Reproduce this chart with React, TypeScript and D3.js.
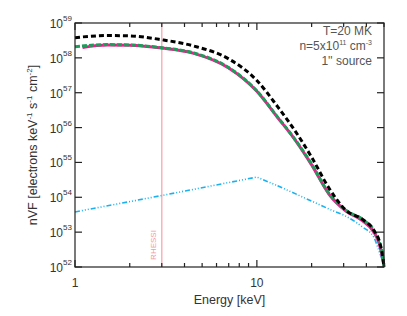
import React from "react";
import * as d3 from "d3";

// energies (keV) and log10 of nVF for each curve
const energy = [1, 1.5, 2, 3, 4.5, 7, 10, 13, 16, 20, 25, 31, 38, 44, 47, 49.5, 50];
const blackLog = [58.58, 58.64, 58.63, 58.52, 58.34, 57.97, 57.35, 56.6, 55.95, 55.15, 54.25, 53.62, 53.37, 53.05, 52.75, 52.2, 52.0];
const greenLog = [58.32, 58.38, 58.37, 58.29, 58.14, 57.72, 57.05, 56.3, 55.7, 54.95, 54.1, 53.62, 53.37, 53.05, 52.75, 52.2, 52.0];
const magentaEnergy = [1.1, 1.5, 2, 3, 4.5, 7, 10, 13, 16, 20, 25, 31, 38, 44, 47, 49.5, 50];
const magentaLog = [58.3, 58.37, 58.36, 58.28, 58.13, 57.71, 57.04, 56.29, 55.69, 54.93, 54.08, 53.6, 53.33, 53.0, 52.68, 52.15, 52.0];
const blueEnergy = [1, 3, 10, 13, 20, 25, 31, 38, 44, 47, 49.5, 50];
const blueLog = [53.58, 54.05, 54.58, 54.33, 53.89, 53.66, 53.45, 53.15, 52.85, 52.45, 52.1, 52.0];

const yDecades = [52, 53, 54, 55, 56, 57, 58, 59];
const xMajor = [1, 10];
const xMinor = [2, 3, 4, 5, 6, 7, 8, 9, 20, 30, 40, 50];
const infoLines = ["T=20 MK", "n=5x10", "1'' source"];

const W = 407;
const H = 316;
const left = 75, right = 384, top = 23, bottom = 267;

export default function App() {
  const x = d3.scaleLog().domain([1, 50]).range([left, right]);
  const y = d3.scaleLog().domain([1e52, 1e59]).range([bottom, top]);

  const mk = (xs: number[], ls: number[], curve: d3.CurveFactory = d3.curveMonotoneX) =>
    d3.line<number>()
      .x((_, i) => x(xs[i]))
      .y((d) => y(Math.pow(10, d)))
      .curve(curve)(ls) as string;

  const font = "'Liberation Sans', Arial, sans-serif";
  const axisColor = "#222";

  return (
    <svg width={W} height={H} style={{ position: "absolute", left: 0, top: 0, background: "#fff" }} fontFamily={font}>
      {/* RHESSI line */}
      <line x1={x(3)} x2={x(3)} y1={top} y2={bottom} stroke="#f7b3bd" strokeWidth={1.5} />
      <text transform={`translate(${x(3) - 6},245) rotate(-90)`} textAnchor="middle" fontSize={8} fill="#f29aa6">RHESSI</text>

      {/* curves */}
      <path d={mk(blueEnergy.slice(0, 4), blueLog.slice(0, 4), d3.curveLinear)} fill="none" stroke="#19b2f0" strokeWidth={1.6} strokeDasharray="5,2,1,2,1,2,1,2" />
      <path d={mk(blueEnergy.slice(3), blueLog.slice(3))} fill="none" stroke="#19b2f0" strokeWidth={1.6} strokeDasharray="5,2,1,2,1,2,1,2" />
      <path d={mk(magentaEnergy, magentaLog)} fill="none" stroke="#ec1c8c" strokeWidth={3} />
      <path d={mk(energy, greenLog)} fill="none" stroke="#1e9c5c" strokeWidth={3} strokeDasharray="5,2" />
      <path d={mk(energy, blackLog)} fill="none" stroke="#000" strokeWidth={3} strokeDasharray="5,3" />

      {/* frame */}
      <rect x={left} y={top} width={right - left} height={bottom - top} fill="none" stroke={axisColor} strokeWidth={1.2} />

      {/* y ticks */}
      {yDecades.map((d) => {
        const yy = y(Math.pow(10, d));
        return (
          <g key={d}>
            <line x1={left} x2={left + 7} y1={yy} y2={yy} stroke={axisColor} strokeWidth={1.2} />
            <line x1={right} x2={right - 7} y1={yy} y2={yy} stroke={axisColor} strokeWidth={1.2} />
            <text x={63} y={yy + 5} textAnchor="end" fontSize={12} fill="#333">10</text>
            <text x={63} y={yy - 2} fontSize={8} fill="#333">{d}</text>
          </g>
        );
      })}

      {/* x ticks */}
      {xMajor.map((v) => (
        <g key={v}>
          <line x1={x(v)} x2={x(v)} y1={bottom} y2={bottom - 7} stroke={axisColor} strokeWidth={1.2} />
          <line x1={x(v)} x2={x(v)} y1={top} y2={top + 7} stroke={axisColor} strokeWidth={1.2} />
          <text x={x(v)} y={287} textAnchor="middle" fontSize={12} fill="#333">{v}</text>
        </g>
      ))}
      {xMinor.map((v) => (
        <g key={v}>
          <line x1={x(v)} x2={x(v)} y1={bottom} y2={bottom - 4} stroke={axisColor} strokeWidth={1.2} />
          <line x1={x(v)} x2={x(v)} y1={top} y2={top + 4} stroke={axisColor} strokeWidth={1.2} />
        </g>
      ))}

      {/* axis titles */}
      <text x={(left + right) / 2} y={304} textAnchor="middle" fontSize={12.5} fill="#333">Energy [keV]</text>
      <text transform={`translate(37,${(top + bottom) / 2}) rotate(-90)`} textAnchor="middle" fontSize={12.5} fill="#333">
        nVF [electrons keV<tspan dy={-5} fontSize={8}>-1</tspan>
        <tspan dy={5}> s</tspan><tspan dy={-5} fontSize={8}>-1</tspan>
        <tspan dy={5}> cm</tspan><tspan dy={-5} fontSize={8}>-2</tspan>
        <tspan dy={5}>]</tspan>
      </text>

      {/* info */}
      <text x={372} y={35} textAnchor="end" fontSize={12} fill="#555">{infoLines[0]}</text>
      <text x={372} y={50} textAnchor="end" fontSize={12} fill="#555">
        {infoLines[1]}<tspan dy={-5} fontSize={7}>11</tspan><tspan dy={5}> cm</tspan><tspan dy={-5} fontSize={7}>-3</tspan>
      </text>
      <text x={372} y={65} textAnchor="end" fontSize={12} fill="#555">{infoLines[2]}</text>
    </svg>
  );
}
